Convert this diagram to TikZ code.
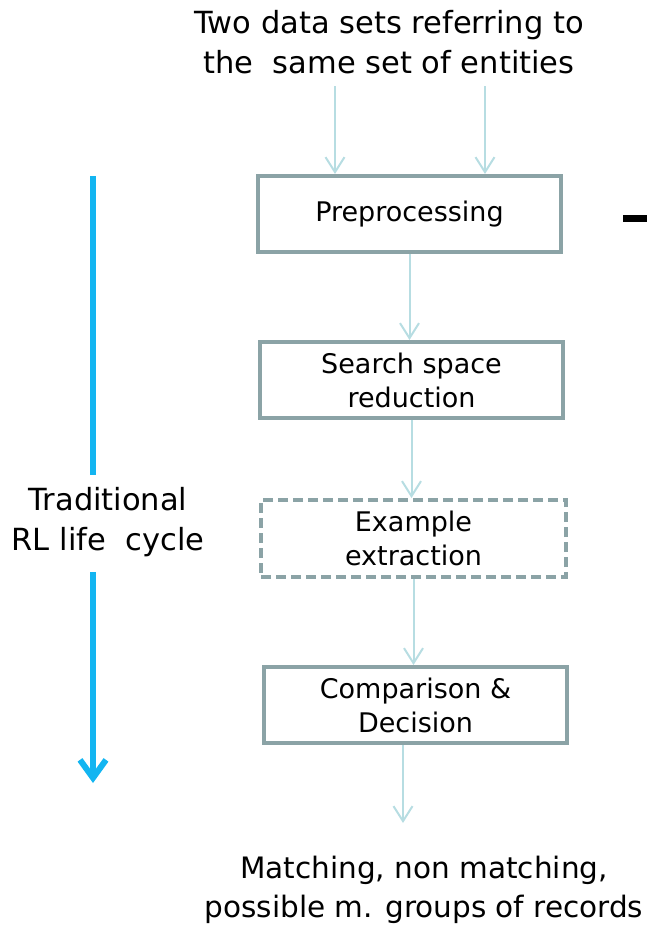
\documentclass[tikz,border=0pt]{standalone}
\usepackage{fontspec}
\setmainfont{DejaVu Sans}
\usetikzlibrary{arrows.meta}
\definecolor{boxline}{HTML}{8BA3A6}
\definecolor{flow}{HTML}{B7DDE2}
\definecolor{cyclebl}{HTML}{13B5F1}
\tikzset{
  stage/.style={draw=boxline, line width=4pt, fill=white, minimum width=303pt,
    minimum height=76pt, align=center, inner sep=0pt, font=\fontsize{27}{34}\selectfont},
  optstage/.style={stage, dash pattern=on 10pt off 5pt},
  flowarr/.style={draw=flow, line width=2pt, -{Straight Barb[length=15pt,width=19pt,line width=2pt]}},
  cyclearr/.style={draw=cyclebl, line width=6pt},
  label/.style={align=center, inner sep=0pt, font=\fontsize{30.5}{40}\selectfont}
}
\begin{document}
\begin{tikzpicture}[x=1pt,y=-1pt]
\useasboundingbox (0,0) rectangle (647,927);

% input and output texts
\node[label] (inp) at (389,42) {Two data sets referring to\\the\ \ same set of entities};
\node[label, font=\fontsize{29.5}{39}\selectfont] (outp) at (424,890) {Matching, non matching,\\possible m. groups of records};
\node[label] (lc) at (108,522) {Traditional\\RL life\ \ cycle};

% process stages
\node[stage] (pre) at (409.5,214) {Preprocessing};
\node[stage] (ssr) at (411.5,380) {Search space\\reduction};
\node[optstage, minimum width=305pt, minimum height=77pt] (ex) at (413.5,538.5) {Example\\extraction};
\node[stage] (cmp) at (415.5,705) {Comparison \&\\Decision};

% flow between stages
\coordinate (in1) at (335,86);
\coordinate (in2) at (485,86);
\coordinate (res) at (403,823);
\draw[flowarr] (in1) -- (in1 |- pre.north);
\draw[flowarr] (in2) -- (in2 |- pre.north);
\draw[flowarr] (pre.south) -- (pre.south |- ssr.north);
\draw[flowarr] (ssr.south) -- (ssr.south |- ex.north);
\draw[flowarr] (ex.south) -- (ex.south |- cmp.north);
\draw[flowarr] (res |- cmp.south) -- (res);

% life cycle arrow
\coordinate (c1) at (93,176);
\coordinate (c2) at (93,475);
\coordinate (c3) at (93,572);
\coordinate (c4) at (93,783);
\draw[cyclearr] (c1) -- (c2);
\draw[cyclearr, -{Straight Barb[length=18pt,width=26pt,line width=6pt]}] (c3) -- (c4);

% mark at the right border
\fill[black] (623,215) rectangle (647,222);
\end{tikzpicture}
\end{document}
